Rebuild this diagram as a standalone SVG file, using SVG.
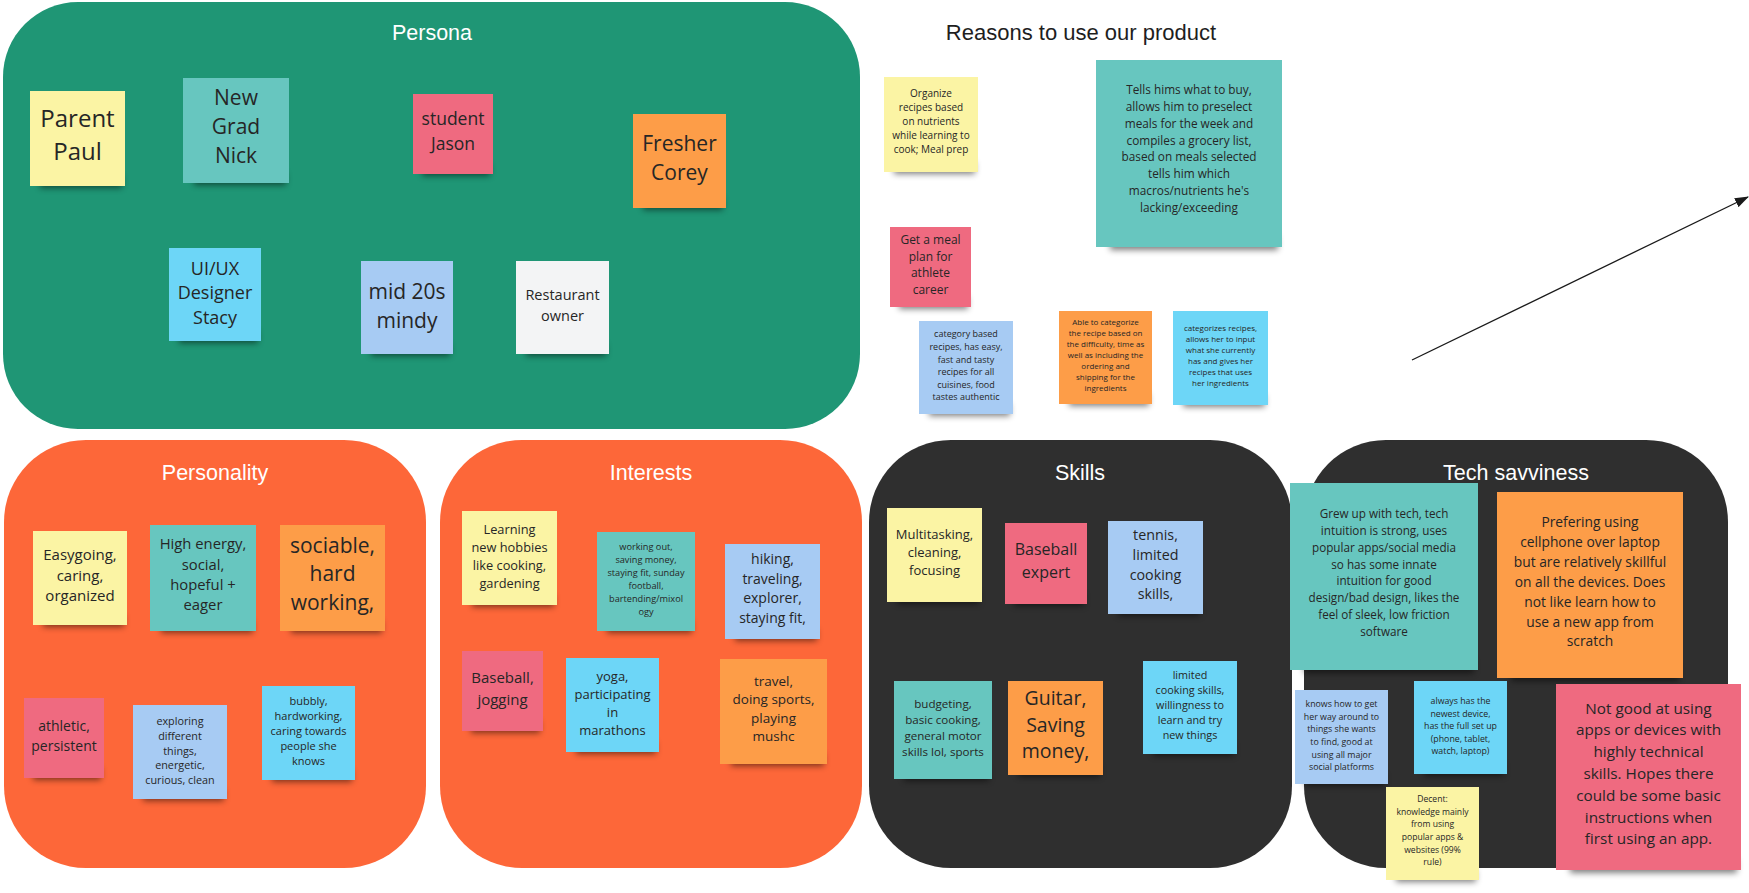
<svg xmlns="http://www.w3.org/2000/svg" width="1749" height="893" viewBox="0 0 1749 893">
<style>
.bg{fill:#ffffff}
.frame-g{fill:#1f9675}
.frame-o{fill:#fd6739}
.frame-d{fill:#2f2f2f}
.ttl{font-family:"Liberation Sans",Arial,sans-serif;font-weight:normal;font-size:21.5px;fill:#ffffff;text-anchor:middle}
.head{font-family:"Liberation Sans",Arial,sans-serif;font-size:22px;fill:#1e1e1e;text-anchor:middle}
.tx{font-family:"Open Sans","Noto Sans",sans-serif;fill:#262626;text-anchor:middle}
.sh{fill:#000;opacity:0.5;filter:url(#blur)}
.y{fill:#fbf4a4}
.t{fill:#67c6bf}
.p{fill:#ef6a80}
.o{fill:#fd9d48}
.b{fill:#6dd6f7}
.l{fill:#a7cbf3}
.w{fill:#f3f4f5}
.conn{stroke:#1a1a1a;stroke-width:1.3;fill:none}
</style>
<defs>
<filter id="blur" x="-20%" y="-100%" width="140%" height="300%"><feGaussianBlur stdDeviation="3"/></filter>
<marker id="arr" markerWidth="14" markerHeight="10" refX="13" refY="5" orient="auto" markerUnits="userSpaceOnUse"><path d="M0,0 L14,5 L0,10 Z" fill="#1a1a1a"/></marker>
</defs>
<rect class="bg" x="0" y="0" width="1749" height="893"/>

<g id="frame-persona"><rect class="frame-g" x="3" y="2" width="857" height="427" rx="75" ry="75"/><text class="ttl" x="432" y="40">Persona</text></g>
<g id="frame-personality"><rect class="frame-o" x="4" y="440" width="422" height="428" rx="82" ry="82"/><text class="ttl" x="215" y="480">Personality</text></g>
<g id="frame-interests"><rect class="frame-o" x="440" y="440" width="422" height="428" rx="82" ry="82"/><text class="ttl" x="651" y="480">Interests</text></g>
<g id="frame-skills"><rect class="frame-d" x="869" y="440" width="423" height="428" rx="82" ry="82"/><text class="ttl" x="1080" y="480">Skills</text></g>
<g id="frame-tech"><rect class="frame-d" x="1304" y="440" width="424" height="428" rx="82" ry="82"/><text class="ttl" x="1516" y="480">Tech savviness</text></g>

<g id="heading-reasons"><text class="head" x="1081" y="40">Reasons to use our product</text></g>

<!-- Persona -->
<g id="n-paul"><rect class="sh" x="40" y="176" width="82" height="12"/><rect class="y" x="30" y="91" width="95" height="95"/>
<text class="tx" font-size="24"><tspan x="77.5" y="127">Parent</tspan><tspan x="77.5" y="160">Paul</tspan></text></g>
<g id="n-nick"><rect class="sh" x="194" y="173" width="92" height="12"/><rect class="t" x="183" y="78" width="106" height="105"/>
<text class="tx" font-size="21"><tspan x="236" y="105">New</tspan><tspan x="236" y="134">Grad</tspan><tspan x="236" y="163">Nick</tspan></text></g>
<g id="n-jason"><rect class="sh" x="422" y="164" width="68" height="12"/><rect class="p" x="413" y="94" width="80" height="80"/>
<text class="tx" font-size="17.5"><tspan x="453" y="125">student</tspan><tspan x="453" y="150">Jason</tspan></text></g>
<g id="n-corey"><rect class="sh" x="643" y="198" width="80" height="12"/><rect class="o" x="633" y="114" width="93" height="94"/>
<text class="tx" font-size="21"><tspan x="679.5" y="150.5">Fresher</tspan><tspan x="679.5" y="179.5">Corey</tspan></text></g>
<g id="n-stacy"><rect class="sh" x="179" y="331" width="79" height="12"/><rect class="b" x="169" y="248" width="92" height="93"/>
<text class="tx" font-size="18"><tspan x="215" y="274.5">UI/UX</tspan><tspan x="215" y="298.5">Designer</tspan><tspan x="215" y="323.5">Stacy</tspan></text></g>
<g id="n-mindy"><rect class="sh" x="371" y="344" width="79" height="12"/><rect class="l" x="361" y="261" width="92" height="93"/>
<text class="tx" font-size="21"><tspan x="407" y="298.5">mid 20s</tspan><tspan x="407" y="327.5">mindy</tspan></text></g>
<g id="n-restaurant"><rect class="sh" x="526" y="344" width="80" height="12"/><rect class="w" x="516" y="261" width="93" height="93"/>
<text class="tx" font-size="14.5"><tspan x="562.5" y="300">Restaurant</tspan><tspan x="562.5" y="321">owner</tspan></text></g>

<!-- Reasons -->
<g id="n-organize"><rect class="sh" x="894" y="162" width="81" height="12"/><rect class="y" x="884" y="77" width="94" height="95"/>
<text class="tx" font-size="10"><tspan x="931" y="97">Organize</tspan><tspan x="931" y="111">recipes based</tspan><tspan x="931" y="125">on nutrients</tspan><tspan x="931" y="139">while learning to</tspan><tspan x="931" y="153">cook; Meal prep</tspan></text></g>
<g id="n-tells"><rect class="sh" x="1110" y="236" width="168" height="14"/><rect class="t" x="1096" y="60" width="186" height="187"/>
<text class="tx" font-size="11.8"><tspan x="1189" y="94.2">Tells hims what to buy,</tspan><tspan x="1189" y="111">allows him to preselect</tspan><tspan x="1189" y="127.7">meals for the week and</tspan><tspan x="1189" y="144.5">compiles a grocery list,</tspan><tspan x="1189" y="161.2">based on meals selected</tspan><tspan x="1189" y="178">tells him which</tspan><tspan x="1189" y="194.7">macros/nutrients he's</tspan><tspan x="1189" y="211.5">lacking/exceeding</tspan></text></g>
<g id="n-meal"><rect class="sh" x="899" y="297" width="69" height="12"/><rect class="p" x="890" y="227" width="81" height="80"/>
<text class="tx" font-size="12"><tspan x="930.5" y="244.3">Get a meal</tspan><tspan x="930.5" y="260.7">plan for</tspan><tspan x="930.5" y="277.1">athlete</tspan><tspan x="930.5" y="293.5">career</tspan></text></g>
<g id="n-category"><rect class="sh" x="929" y="404" width="81" height="12"/><rect class="l" x="919" y="321" width="94" height="93"/>
<text class="tx" font-size="9"><tspan x="966" y="337.3">category based</tspan><tspan x="966" y="349.9">recipes, has easy,</tspan><tspan x="966" y="362.5">fast and tasty</tspan><tspan x="966" y="375.1">recipes for all</tspan><tspan x="966" y="387.7">cuisines, food</tspan><tspan x="966" y="400.3">tastes authentic</tspan></text></g>
<g id="n-able"><rect class="sh" x="1069" y="394" width="80" height="12"/><rect class="o" x="1059" y="311" width="93" height="93"/>
<text class="tx" font-size="8"><tspan x="1105.5" y="325">Able to categorize</tspan><tspan x="1105.5" y="336">the recipe based on</tspan><tspan x="1105.5" y="347">the difficulty, time as</tspan><tspan x="1105.5" y="358">well as including the</tspan><tspan x="1105.5" y="369">ordering and</tspan><tspan x="1105.5" y="380">shipping for the</tspan><tspan x="1105.5" y="391">ingredients</tspan></text></g>
<g id="n-categorizes"><rect class="sh" x="1183" y="395" width="82" height="12"/><rect class="b" x="1173" y="311" width="95" height="94"/>
<text class="tx" font-size="8"><tspan x="1220.5" y="331">categorizes recipes,</tspan><tspan x="1220.5" y="342">allows her to input</tspan><tspan x="1220.5" y="353">what she currently</tspan><tspan x="1220.5" y="364">has and gives her</tspan><tspan x="1220.5" y="375">recipes that uses</tspan><tspan x="1220.5" y="386">her ingredients</tspan></text></g>

<!-- Personality -->
<g id="n-easygoing"><rect class="sh" x="43" y="615" width="81" height="12"/><rect class="y" x="33" y="531" width="94" height="94"/>
<text class="tx" font-size="15"><tspan x="80" y="560.4">Easygoing,</tspan><tspan x="80" y="580.9">caring,</tspan><tspan x="80" y="601.4">organized</tspan></text></g>
<g id="n-highenergy"><rect class="sh" x="161" y="621" width="92" height="12"/><rect class="t" x="150" y="525" width="106" height="106"/>
<text class="tx" font-size="14.8"><tspan x="203" y="549.3">High energy,</tspan><tspan x="203" y="569.6">social,</tspan><tspan x="203" y="589.9">hopeful +</tspan><tspan x="203" y="610.2">eager</tspan></text></g>
<g id="n-sociable"><rect class="sh" x="291" y="621" width="91" height="12"/><rect class="o" x="280" y="525" width="105" height="106"/>
<text class="tx" font-size="21"><tspan x="332.5" y="552.5">sociable,</tspan><tspan x="332.5" y="581">hard</tspan><tspan x="332.5" y="609.5">working,</tspan></text></g>
<g id="n-athletic"><rect class="sh" x="33" y="768" width="68" height="12"/><rect class="p" x="24" y="698" width="80" height="80"/>
<text class="tx" font-size="14"><tspan x="64" y="731">athletic,</tspan><tspan x="64" y="750.5">persistent</tspan></text></g>
<g id="n-exploring"><rect class="sh" x="143" y="789" width="81" height="12"/><rect class="l" x="133" y="705" width="94" height="94"/>
<text class="tx" font-size="10.8"><tspan x="180" y="724.9">exploring</tspan><tspan x="180" y="739.7">different</tspan><tspan x="180" y="754.5">things,</tspan><tspan x="180" y="769.3">energetic,</tspan><tspan x="180" y="784.1">curious, clean</tspan></text></g>
<g id="n-bubbly"><rect class="sh" x="272" y="770" width="80" height="12"/><rect class="b" x="262" y="686" width="93" height="94"/>
<text class="tx" font-size="11"><tspan x="308.5" y="705">bubbly,</tspan><tspan x="308.5" y="720">hardworking,</tspan><tspan x="308.5" y="735">caring towards</tspan><tspan x="308.5" y="750">people she</tspan><tspan x="308.5" y="765">knows</tspan></text></g>

<!-- Interests -->
<g id="n-learning"><rect class="sh" x="472" y="595" width="82" height="12"/><rect class="y" x="462" y="511" width="95" height="94"/>
<text class="tx" font-size="12.8"><tspan x="509.5" y="533.6">Learning</tspan><tspan x="509.5" y="551.6">new hobbies</tspan><tspan x="509.5" y="569.6">like cooking,</tspan><tspan x="509.5" y="587.6">gardening</tspan></text></g>
<g id="n-workingout"><rect class="sh" x="607" y="621" width="85" height="12"/><rect class="t" x="597" y="532" width="98" height="99"/>
<text class="tx" font-size="9.2"><tspan x="646" y="550.3">working out,</tspan><tspan x="646" y="563.3">saving money,</tspan><tspan x="646" y="576.3">staying fit, sunday</tspan><tspan x="646" y="589.3">football,</tspan><tspan x="646" y="602.3">bartending/mixol</tspan><tspan x="646" y="615.3">ogy</tspan></text></g>
<g id="n-hiking"><rect class="sh" x="735" y="629" width="82" height="12"/><rect class="l" x="725" y="544" width="95" height="95"/>
<text class="tx" font-size="14"><tspan x="772.5" y="564">hiking,</tspan><tspan x="772.5" y="583.7">traveling,</tspan><tspan x="772.5" y="603.4">explorer,</tspan><tspan x="772.5" y="623.1">staying fit,</tspan></text></g>
<g id="n-baseballjog"><rect class="sh" x="471" y="721" width="69" height="12"/><rect class="p" x="462" y="651" width="81" height="80"/>
<text class="tx" font-size="15"><tspan x="502.5" y="683.4">Baseball,</tspan><tspan x="502.5" y="705.4">jogging</tspan></text></g>
<g id="n-yoga"><rect class="sh" x="576" y="742" width="80" height="12"/><rect class="b" x="566" y="658" width="93" height="94"/>
<text class="tx" font-size="13"><tspan x="612.5" y="680.7">yoga,</tspan><tspan x="612.5" y="698.7">participating</tspan><tspan x="612.5" y="716.7">in</tspan><tspan x="612.5" y="734.7">marathons</tspan></text></g>
<g id="n-travel"><rect class="sh" x="731" y="754" width="93" height="12"/><rect class="o" x="720" y="659" width="107" height="105"/>
<text class="tx" font-size="13.5"><tspan x="773.5" y="685.9">travel,</tspan><tspan x="773.5" y="704.3">doing sports,</tspan><tspan x="773.5" y="722.7">playing</tspan><tspan x="773.5" y="741.1">mushc</tspan></text></g>

<!-- Skills -->
<g id="n-multitasking"><rect class="sh" x="897" y="592" width="82" height="12"/><rect class="y" x="887" y="508" width="95" height="94"/>
<text class="tx" font-size="13"><tspan x="934.5" y="538.7">Multitasking,</tspan><tspan x="934.5" y="556.7">cleaning,</tspan><tspan x="934.5" y="574.7">focusing</tspan></text></g>
<g id="n-baseballexpert"><rect class="sh" x="1014" y="594" width="70" height="12"/><rect class="p" x="1005" y="523" width="82" height="81"/>
<text class="tx" font-size="16"><tspan x="1046" y="554.8">Baseball</tspan><tspan x="1046" y="577.8">expert</tspan></text></g>
<g id="n-tennis"><rect class="sh" x="1118" y="604" width="82" height="12"/><rect class="l" x="1108" y="521" width="95" height="93"/>
<text class="tx" font-size="14.3"><tspan x="1155.5" y="540.1">tennis,</tspan><tspan x="1155.5" y="559.8">limited</tspan><tspan x="1155.5" y="579.5">cooking</tspan><tspan x="1155.5" y="599.2">skills,</tspan></text></g>
<g id="n-budgeting"><rect class="sh" x="904" y="769" width="85" height="12"/><rect class="t" x="894" y="681" width="98" height="98"/>
<text class="tx" font-size="11.6"><tspan x="943" y="708.2">budgeting,</tspan><tspan x="943" y="724.2">basic cooking,</tspan><tspan x="943" y="740.2">general motor</tspan><tspan x="943" y="756.2">skills lol, sports</tspan></text></g>
<g id="n-guitar"><rect class="sh" x="1018" y="765" width="82" height="12"/><rect class="o" x="1008" y="681" width="95" height="94"/>
<text class="tx" font-size="19.5"><tspan x="1055.5" y="705">Guitar,</tspan><tspan x="1055.5" y="731.7">Saving</tspan><tspan x="1055.5" y="758.4">money,</tspan></text></g>
<g id="n-limitedcooking"><rect class="sh" x="1153" y="744" width="81" height="12"/><rect class="b" x="1143" y="661" width="94" height="93"/>
<text class="tx" font-size="10.8"><tspan x="1190" y="678.9">limited</tspan><tspan x="1190" y="693.9">cooking skills,</tspan><tspan x="1190" y="708.9">willingness to</tspan><tspan x="1190" y="723.9">learn and try</tspan><tspan x="1190" y="738.9">new things</tspan></text></g>

<!-- Tech savviness -->
<g id="n-grewup"><rect class="sh" x="1304" y="660" width="170" height="13"/><rect class="t" x="1290" y="483" width="188" height="187"/>
<text class="tx" font-size="11.7"><tspan x="1384" y="518.2">Grew up with tech, tech</tspan><tspan x="1384" y="535">intuition is strong, uses</tspan><tspan x="1384" y="551.8">popular apps/social media</tspan><tspan x="1384" y="568.6">so has some innate</tspan><tspan x="1384" y="585.4">intuition for good</tspan><tspan x="1384" y="602.2">design/bad design, likes the</tspan><tspan x="1384" y="619">feel of sleek, low friction</tspan><tspan x="1384" y="635.8">software</tspan></text></g>
<g id="n-prefering"><rect class="sh" x="1511" y="668" width="168" height="13"/><rect class="o" x="1497" y="492" width="186" height="186"/>
<text class="tx" font-size="13.8"><tspan x="1590" y="527">Prefering using</tspan><tspan x="1590" y="546.9">cellphone over laptop</tspan><tspan x="1590" y="566.8">but are relatively skillful</tspan><tspan x="1590" y="586.7">on all the devices. Does</tspan><tspan x="1590" y="606.6">not like learn how to</tspan><tspan x="1590" y="626.5">use a new app from</tspan><tspan x="1590" y="646.4">scratch</tspan></text></g>
<g id="n-knowshow"><rect class="sh" x="1305" y="774" width="80" height="12"/><rect class="l" x="1295" y="690" width="93" height="94"/>
<text class="tx" font-size="8.8"><tspan x="1341.5" y="707.2">knows how to get</tspan><tspan x="1341.5" y="719.8">her way around to</tspan><tspan x="1341.5" y="732.4">things she wants</tspan><tspan x="1341.5" y="745">to find, good at</tspan><tspan x="1341.5" y="757.6">using all major</tspan><tspan x="1341.5" y="770.2">social platforms</tspan></text></g>
<g id="n-always"><rect class="sh" x="1424" y="764" width="80" height="12"/><rect class="b" x="1414" y="681" width="93" height="93"/>
<text class="tx" font-size="8.8"><tspan x="1460.5" y="704.2">always has the</tspan><tspan x="1460.5" y="716.7">newest device,</tspan><tspan x="1460.5" y="729.2">has the full set up</tspan><tspan x="1460.5" y="741.7">(phone, tablet,</tspan><tspan x="1460.5" y="754.2">watch, laptop)</tspan></text></g>
<g id="n-decent"><rect class="sh" x="1396" y="870" width="80" height="12"/><rect class="y" x="1386" y="787" width="93" height="93"/>
<text class="tx" font-size="8.6"><tspan x="1432.5" y="802.1">Decent:</tspan><tspan x="1432.5" y="814.7">knowledge mainly</tspan><tspan x="1432.5" y="827.3">from using</tspan><tspan x="1432.5" y="839.9">popular apps &amp;</tspan><tspan x="1432.5" y="852.5">websites (99%</tspan><tspan x="1432.5" y="865.1">rule)</tspan></text></g>
<g id="n-notgood"><rect class="sh" x="1570" y="859" width="167" height="14"/><rect class="p" x="1556" y="684" width="185" height="186"/>
<text class="tx" font-size="15.3"><tspan x="1648.5" y="713.5">Not good at using</tspan><tspan x="1648.5" y="735.3">apps or devices with</tspan><tspan x="1648.5" y="757.1">highly technical</tspan><tspan x="1648.5" y="778.9">skills. Hopes there</tspan><tspan x="1648.5" y="800.7">could be some basic</tspan><tspan x="1648.5" y="822.5">instructions when</tspan><tspan x="1648.5" y="844.3">first using an app.</tspan></text></g>

<g id="connectors">
<line class="conn" x1="1412" y1="360" x2="1748" y2="197" marker-end="url(#arr)"/>
</g>
</svg>
